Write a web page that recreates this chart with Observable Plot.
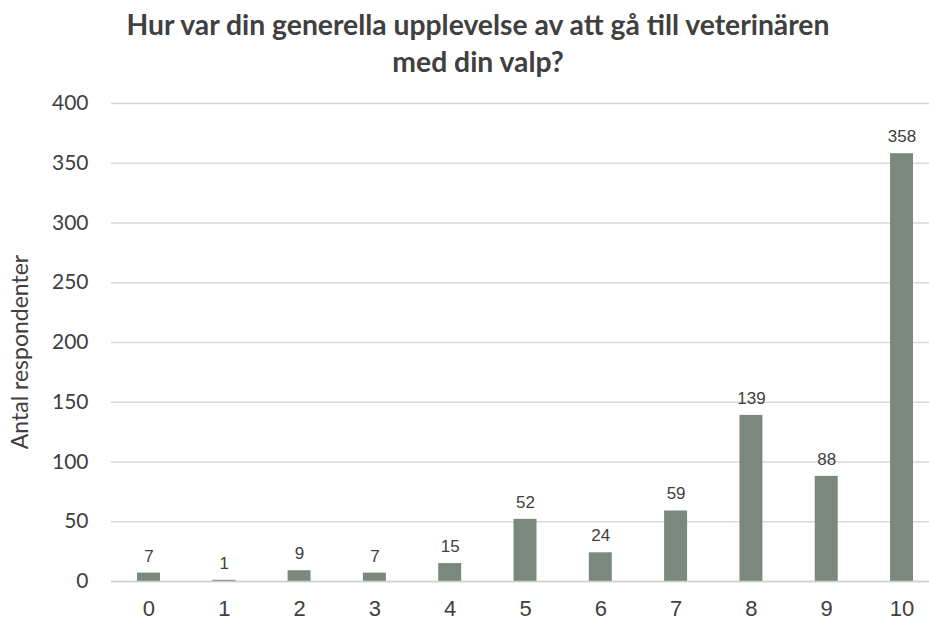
<!DOCTYPE html>
<html>
<head>
<meta charset="utf-8">
<script src="https://cdn.jsdelivr.net/npm/d3@7"></script>
<script src="https://cdn.jsdelivr.net/npm/@observablehq/plot@0.6"></script>
<style>
  html, body { margin: 0; padding: 0; background: #fff; overflow: hidden; }
  #title { width: 956px; height: 85px; text-align: center; font-family: Lato, "Open Sans", sans-serif; font-weight: bold; font-size: 28.3px; line-height: 37px; color: #404040; padding-top: 6px; box-sizing: border-box; }
  #chart svg { display: block; }
</style>
</head>
<body>
<div id="title">Hur var din generella upplevelse av att gå till veterinären<br>med din valp?</div>
<div id="chart"></div>
<script>
const categories = ["0", "1", "2", "3", "4", "5", "6", "7", "8", "9", "10"];
const counts = [7, 1, 9, 7, 15, 52, 24, 59, 139, 88, 358];
const yTicks = [0, 50, 100, 150, 200, 250, 300, 350, 400];
const yLabel = "Antal respondenter";

const data = categories.map((c, i) => ({category: c, count: counts[i]}));

const chart = Plot.plot({
  width: 929,
  height: 536,
  marginLeft: 111,
  marginRight: 0,
  marginTop: 18,
  marginBottom: 40,
  style: {background: "#fff", overflow: "visible"},
  x: {domain: categories, range: [111, 939], paddingInner: 0.695, paddingOuter: 0.345, round: false},
  y: {domain: [0, 400], ticks: yTicks},
  marks: [
    Plot.gridY(yTicks, {stroke: "#d9d9d9", strokeOpacity: 1, strokeWidth: 1.3}),
    Plot.barY(data, {x: "category", y: "count", fill: "#7a887d"}),
    Plot.ruleY([0], {stroke: "#d0d0d0", strokeWidth: 1.5}),
    Plot.text(data, {x: "category", y: "count", text: d => String(d.count), dy: -17, fill: "#404040", fontSize: 17, fontFamily: "Liberation Sans, Arial, sans-serif"}),
    Plot.axisY(yTicks, {tickSize: 0, tickPadding: 23, fontSize: 21, fontFamily: "Lato, 'Open Sans', sans-serif", fill: "#404040", label: null}),
    Plot.axisX({tickSize: 0, tickPadding: 19, fontSize: 22, fontFamily: "Liberation Sans, Arial, sans-serif", fill: "#404040", label: null}),
    Plot.text([yLabel], {frameAnchor: "left", rotate: -90, dx: -91, dy: 9.5, text: d => d, fontSize: 23, fontFamily: "Lato, 'Open Sans', sans-serif", fill: "#404040", textAnchor: "middle", lineAnchor: "middle"})
  ]
});
document.getElementById("chart").append(chart);
</script>
</body>
</html>
